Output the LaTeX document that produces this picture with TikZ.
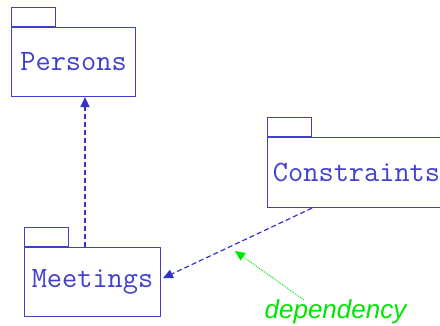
\documentclass[tikz,border=0pt]{standalone}
\usepackage{fontspec}
\newfontfamily\notefont{Liberation Sans}
\usetikzlibrary{arrows.meta,calc}
\definecolor{umlblue}{RGB}{64,64,204}
\definecolor{deparrow}{RGB}{51,51,204}
\definecolor{notegreen}{RGB}{0,230,0}
\tikzset{
  pkgbody/.style={draw=umlblue, line width=1.1pt, rectangle, inner sep=0pt,
    anchor=north west, text=umlblue, font=\ttfamily\fontsize{29.5}{32}\selectfont},
  pkgtab/.style={draw=umlblue, line width=1.1pt, rectangle, inner sep=0pt,
    anchor=south west, minimum width=44pt, minimum height=19pt},
  deparr/.style={draw=deparrow, line width=1.5pt, dash pattern=on 5pt off 3pt,
    -{Triangle[length=10pt,width=9pt]}},
  notearr/.style={draw=notegreen, line width=0.9pt, dash pattern=on 1pt off 1pt,
    -{Triangle[length=10pt,width=9pt]}},
  notetext/.style={text=notegreen, font=\notefont\itshape\fontsize{26}{30}\selectfont,
    inner sep=0pt, anchor=base}
}
\begin{document}
\begin{tikzpicture}[x=1pt,y=-1pt]
  \useasboundingbox[fill=white] (0,0) rectangle (440,326);

  % packages
  \node[pkgbody, minimum width=124pt, minimum height=69pt] (pers) at (11,27) {Persons};
  \node[pkgtab] (perstab) at (pers.north west) {};

  \node[pkgbody, minimum width=178pt, minimum height=70pt] (cons) at (267,137) {Constraints};
  \node[pkgtab] (constab) at (cons.north west) {};

  \node[pkgbody, minimum width=136pt, minimum height=69pt] (meet) at (24,247) {Meetings};
  \node[pkgtab] (meettab) at (meet.north west) {};

  % dependencies
  \coordinate (m1) at ([xshift=61pt]meet.north west);
  \draw[deparr] (m1) -- (m1 |- pers.south);

  \coordinate (c1) at ([xshift=45pt]cons.south west);
  \draw[deparr, line width=1.2pt, shorten >=2pt] (c1) -- ([yshift=3pt]meet.east);

  % annotation
  \node[notetext] (lbl) at (335.5,319) {dependency};
  \coordinate (n1) at (304,300);
  \draw[notearr] (n1) -- (235,251);
\end{tikzpicture}
\end{document}
